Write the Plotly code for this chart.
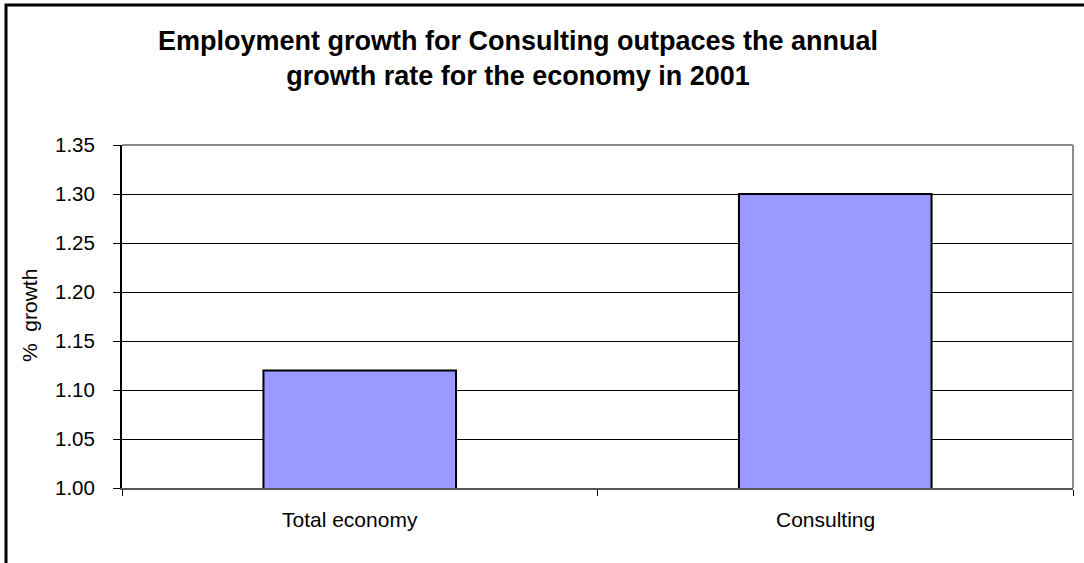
import plotly.graph_objects as go

# Data
categories = ["Total economy", "Consulting"]
growth = [1.12, 1.30]
y_ticks = [1.00, 1.05, 1.10, 1.15, 1.20, 1.25, 1.30, 1.35]
title_lines = ["Employment growth for Consulting outpaces the annual",
               "growth rate for the economy in 2001"]
y_title = "%\u00a0\u00a0growth"

W, H = 1084, 563
ML, MR, MT, MB = 122, 11, 145, 75
PW, PH = W - ML - MR, H - MT - MB


def px_x(p):
    return (p - ML) / PW


def px_y(p):
    return 1 - (p - MT) / PH


FONT = "Arial, Liberation Sans, sans-serif"

fig = go.Figure()
fig.add_trace(go.Bar(
    x=categories,
    y=growth,
    marker=dict(color="#9999FF", line=dict(color="#000000", width=2)),
    width=0.405,
    hoverinfo="x+y",
))

# category labels, set slightly left of the bar centres
cat_labels = [
    dict(text=c, x=c, xref="x", yref="paper", y=px_y(519),
         xanchor="center", yanchor="middle", xshift=-10, showarrow=False,
         font=dict(family=FONT, size=21, color="#000000"))
    for c in categories
]

fig.update_layout(
    width=W, height=H,
    margin=dict(l=ML, r=MR, t=MT, b=MB, autoexpand=False),
    paper_bgcolor="white",
    plot_bgcolor="white",
    showlegend=False,
    font=dict(family=FONT, size=20, color="#000000"),
    title=dict(
        text="<b>" + "<br>".join(title_lines) + "</b>",
        font=dict(family=FONT, size=27, color="#000000"),
        xref="paper", x=px_x(518), xanchor="center",
        yref="container", y=1 - 50 / H, yanchor="middle",
    ),
    xaxis=dict(
        showgrid=False,
        showline=True, linecolor="#555555", linewidth=2,
        ticks="outside", tickson="boundaries", ticklen=6, tickcolor="#000000",
        showticklabels=False,
        fixedrange=True,
    ),
    yaxis=dict(
        range=[1.0, 1.35],
        tickvals=y_ticks,
        tickformat=".2f",
        showgrid=True, gridcolor="#000000", gridwidth=1,
        showline=True, linecolor="#000000", linewidth=2,
        ticks="outside", ticklen=7, tickcolor="#000000",
        tickfont=dict(family=FONT, size=20.5),
        ticklabelstandoff=14,
        zeroline=False,
        fixedrange=True,
    ),
    shapes=[
        # plot-area frame (top and right)
        dict(type="line", xref="paper", yref="paper", x0=0, x1=1, y0=1, y1=1,
             line=dict(color="#8c8c8c", width=2)),
        dict(type="line", xref="paper", yref="paper", x0=1, x1=1, y0=0, y1=1,
             line=dict(color="#8c8c8c", width=2)),
        # outer chart border
        dict(type="rect", xref="paper", yref="paper",
             x0=px_x(6), x1=px_x(1095), y0=px_y(575), y1=px_y(5),
             line=dict(color="#000000", width=3), layer="above"),
    ],
    annotations=cat_labels + [
        dict(text=y_title, textangle=-90, showarrow=False,
             xref="paper", yref="paper", x=px_x(29), y=px_y(316),
             xanchor="center", yanchor="middle",
             font=dict(family=FONT, size=21, color="#000000")),
    ],
)

fig.write_html("out.html", config={"displayModeBar": False})
